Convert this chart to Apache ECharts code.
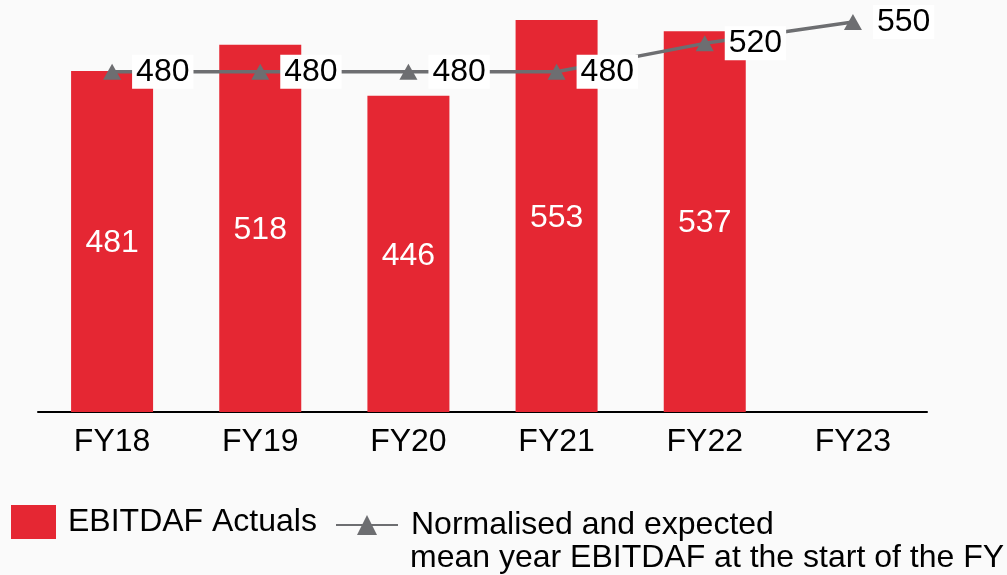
<!DOCTYPE html>
<html><head><meta charset="utf-8">
<script src="https://cdn.jsdelivr.net/npm/echarts@6/dist/echarts.min.js"></script>
<style>html,body{margin:0;padding:0;background:#fafafa}#c{width:1007px;height:575px}</style>
</head><body><div id="c"></div>
<script>
const categories = ['FY18','FY19','FY20','FY21','FY22','FY23'];
const actuals = [481, 518, 446, 553, 537, '-'];
const expected = [480, 480, 480, 480, 520, 550];
const barName = 'EBITDAF Actuals';
const lineLegend1 = 'Normalised and expected';
const lineLegend2 = 'mean year EBITDAF at the start of the FY';
const lineName = lineLegend1 + ' ' + lineLegend2;

const font = '"Liberation Sans", Arial, sans-serif';
const fs = 32;
const chart = echarts.init(document.getElementById('c'));
chart.setOption({
  backgroundColor: '#fafafa',
  animation: false,
  textStyle: { fontFamily: font },
  grid: { left: 38, right: 80, top: 15, bottom: 163 },
  legend: [
    { data: [barName], left: 11, top: 505, padding: 0, itemWidth: 45, itemHeight: 34, icon: 'rect',
      textStyle: { fontSize: fs, color: '#000', fontFamily: font, padding: [0,0,0,7] } },
    { data: [lineName], left: 335, top: 509, padding: 0, itemWidth: 62, itemHeight: 25,
      formatter: () => lineLegend1,
      textStyle: { fontSize: fs, color: '#000', fontFamily: font, padding: [0,0,0,8] } }
  ],
  graphic: [
    { type: 'text', left: 410, top: 542,
      style: { text: lineLegend2, fontSize: fs, fill: '#000', fontFamily: font } }
  ],
  xAxis: {
    type: 'category', data: categories,
    axisLine: { lineStyle: { color: '#000', width: 2 } },
    axisTick: { show: false },
    axisLabel: { fontSize: fs, color: '#000', margin: 14, fontFamily: font }
  },
  yAxis: { type: 'value', min: 0, max: 560, show: false, splitLine: { show: false } },
  series: [
    { name: barName, type: 'bar', data: actuals, barWidth: 82,
      itemStyle: { color: '#e52733' },
      label: { show: true, position: 'inside', offset: [0, 2], color: '#fff', fontSize: fs, fontFamily: font } },
    { name: lineName, type: 'line', data: expected, z: 5,
      symbol: 'triangle', symbolSize: [18, 16],
      lineStyle: { color: '#6d6e71', width: 3.5 }, itemStyle: { color: '#6d6e71' },
      label: { show: true, position: 'right', distance: 11, color: '#000', fontSize: fs,
               fontFamily: font, backgroundColor: '#fff', padding: [1, 4] } }
  ]
});
</script></body></html>
